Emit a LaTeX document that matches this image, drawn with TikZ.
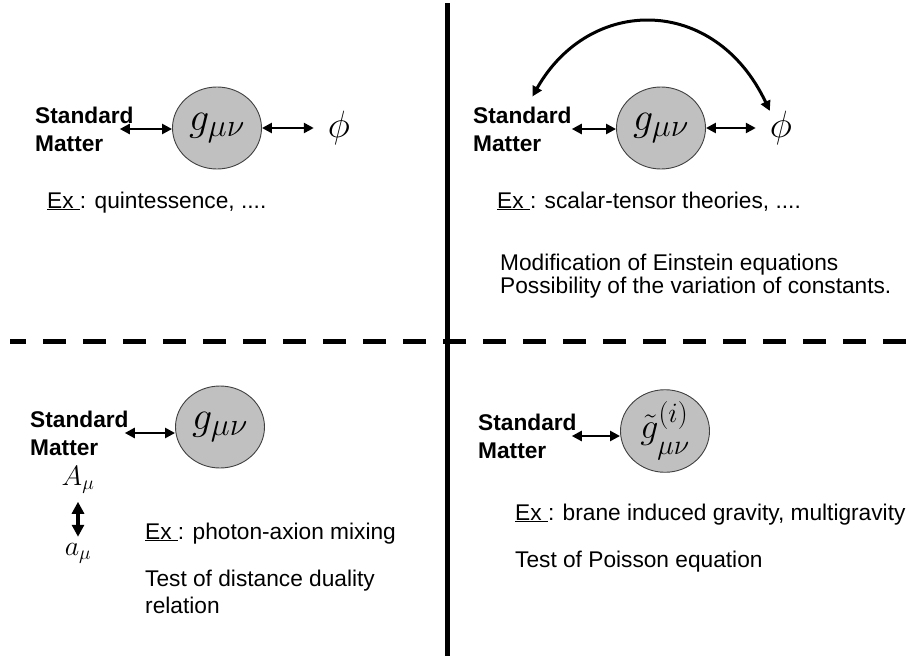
\RequirePackage{fix-cm}
\documentclass[tikz,border=0pt]{standalone}
\usepackage[no-math]{fontspec}
\setmainfont{Liberation Sans}
\usepackage{tikz}
\usetikzlibrary{shapes.geometric, arrows.meta, positioning}
\definecolor{bubblefill}{HTML}{C0C0C0}
\definecolor{rimgray}{HTML}{404040}
\DeclareMathSizes{40}{40}{32}{26}
\DeclareMathSizes{36}{36}{28}{22}

\begin{document}
\begin{tikzpicture}[x=1pt, y=-1pt, >={Triangle[length=10pt,width=10pt]},
    matter/.style={anchor=west, inner sep=0pt, align=left, font=\fontsize{22.7}{28}\selectfont\bfseries},
    bubble/.style={ellipse, draw=rimgray, line width=0.9pt, fill=bubblefill, minimum width=89pt, minimum height=82pt, inner sep=0pt},
    note/.style={anchor=base west, inner sep=0pt, align=left, font=\fontsize{22.7}{21}\selectfont},
    link/.style={<->, line width=2.4pt}]
    \useasboundingbox (0,0) rectangle (908,656);

    % Frame
    \draw[line width=5pt] (447,3) -- (447,656);
    \draw[line width=5pt, dash pattern=on 23pt off 17pt, dash phase=7pt] (10,341) -- (908,341);

    % Top left: quintessence
    \node [matter] (matter1) at (35,129) {Standard\\Matter};
    \node [bubble] (metric1) at (217,128) {\fontsize{40}{44}\selectfont $g_{\mu\nu}$};
    \node [inner sep=0pt] (phi1) at (339,128) {\fontsize{38}{42}\selectfont $\phi$};
    \node [note] (ex1) at (47,208) {\underline{Ex\ }: quintessence, ....};

    % Top right: scalar-tensor
    \node [matter] (matter2) at (473,129) {Standard\\Matter};
    \node [bubble] (metric2) at (661,128) {\fontsize{40}{44}\selectfont $g_{\mu\nu}$};
    \node [inner sep=0pt] (phi2) at (781,128) {\fontsize{38}{42}\selectfont $\phi$};
    \node [note] (ex2) at (497,208) {\underline{Ex\ }: scalar-tensor theories, ....};
    \node [note] (mod2) at (500,293) {Modification of Einstein equations\\Possibility of the variation of constants.};

    % Bottom left: photon-axion
    \node [matter] (matter3) at (30,433) {Standard\\Matter};
    \node [bubble] (metric3) at (220,427) {\fontsize{40}{44}\selectfont $g_{\mu\nu}$};
    \node [inner sep=0pt] (photon) at (78,480) {\fontsize{28}{32}\selectfont $A_\mu$};
    \node [inner sep=0pt] (axion) at (78,553) {\fontsize{28}{32}\selectfont $a_\mu$};
    \node [note] (ex3) at (145,539) {\underline{Ex\ }: photon-axion mixing};
    \node [note, font=\fontsize{22.7}{27}\selectfont] (test3) at (145,613) {Test of distance duality\\relation};

    % Bottom right: multigravity
    \node [matter] (matter4) at (478,436) {Standard\\Matter};
    \node [bubble] (metric4) at (665,431) {\fontsize{36}{40}\selectfont $\tilde{g}^{\raisebox{3pt}{$\scriptstyle(i)$}}_{\raisebox{-7pt}{$\scriptstyle\mu\nu$}}$};
    \node [note] (ex4) at (515,520) {\underline{Ex\ }: brane induced gravity, multigravity};
    \node [note] (test4) at (515,567) {Test of Poisson equation};

    % Arrows
    \draw[link, shorten <=-14pt] (matter1.east) -- (matter1.east -| metric1.west);
    \draw[link, shorten >=14pt] (metric1.east) -- (phi1.west);
    \draw[link] (matter2.east) -- (matter2.east -| metric2.west);
    \draw[link, shorten >=14pt] (metric2.east) -- (phi2.west);
    \draw[link, line width=3pt] ([xshift=10pt, yshift=10pt]matter2.north) .. controls (590,-5) and (715,-5) .. (phi2.north west);
    \draw[link, shorten <=-4pt] (matter3.east) -- (matter3.east -| metric3.west);
    \draw[link, line width=3.4pt, >={Triangle[length=12pt,width=12pt]}, shorten <=8pt, shorten >=6pt] (photon.south) -- (axion.north);
    \draw[link, shorten <=-5pt] (matter4.east) -- (matter4.east -| metric4.west);
\end{tikzpicture}
\end{document}
